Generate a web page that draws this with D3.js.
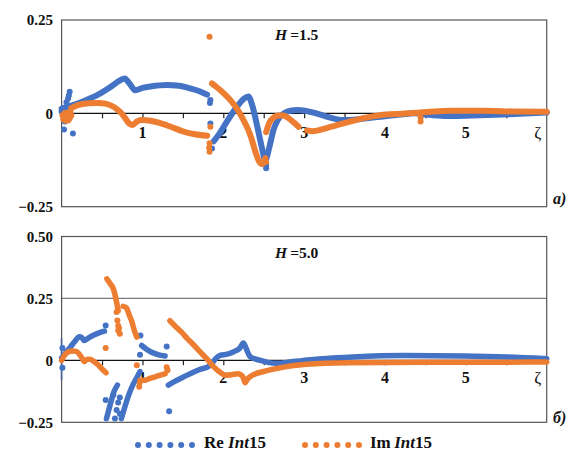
<!DOCTYPE html>
<html>
<head>
<meta charset="utf-8">
<script src="https://cdn.jsdelivr.net/npm/d3@7"></script>
<style>
  html, body { margin: 0; padding: 0; background: #fff; }
  svg { display: block; }
</style>
</head>
<body>
<svg id="chart" width="571" height="452"></svg>
<script>
// ---- data: panel а) H = 1.5 ----
const reTopSegments = [
  [[0.00,0.012],[0.08,0.018],[0.17,0.024],[0.30,0.035],[0.45,0.050],[0.60,0.070],[0.72,0.088],[0.78,0.093],[0.84,0.080],[0.91,0.062],[1.00,0.068],[1.10,0.072],[1.30,0.076],[1.45,0.074],[1.60,0.066],[1.72,0.058],[1.80,0.050]],
  [[1.88,-0.075],[1.95,-0.055],[2.05,-0.020],[2.15,0.012],[2.25,0.038],[2.31,0.045],[2.36,0.020],[2.42,-0.035],[2.47,-0.085],[2.52,-0.125],[2.57,-0.090],[2.62,-0.045],[2.68,-0.015],[2.75,0.000],[2.83,0.007],[2.92,0.009],[3.01,0.007],[3.15,0.000],[3.30,-0.010],[3.49,-0.018],[3.70,-0.015],[3.94,-0.009],[4.20,-0.003],[4.36,0.000],[4.55,-0.004],[4.77,-0.007],[5.18,-0.005],[5.60,-0.002],[6.00,0.002]]
];
const reTopDots = [[0.00,0.005],[0.02,0.015],[0.04,-0.022],[0.03,-0.043],[0.14,-0.054],[0.06,0.030],[0.08,0.040],[0.10,0.058],[0.09,0.048],[0.07,0.020],
  [1.84,0.036],[1.835,0.028],[1.84,-0.027],[1.86,-0.094],[2.53,-0.138],[2.53,-0.147]];

const imTopSegments = [
  [[0.12,0.014],[0.20,0.022],[0.33,0.027],[0.45,0.028],[0.54,0.026],[0.62,0.020],[0.68,0.012],[0.74,0.000],[0.79,-0.014],[0.84,-0.028],[0.88,-0.031],[0.93,-0.022],[0.99,-0.018],[1.10,-0.020],[1.20,-0.025],[1.35,-0.036],[1.50,-0.048],[1.65,-0.056],[1.80,-0.060]],
  [[1.86,0.080],[1.92,0.070],[2.00,0.055],[2.085,0.036],[2.17,0.012],[2.25,-0.018],[2.31,-0.045],[2.355,-0.072],[2.40,-0.105],[2.44,-0.128],[2.48,-0.136],[2.52,-0.120]],
  [[2.53,-0.050],[2.57,-0.025],[2.62,-0.012],[2.68,-0.006],[2.745,-0.006],[2.80,-0.012],[2.87,-0.024],[2.93,-0.036]],
  [[3.04,-0.046],[3.10,-0.048],[3.30,-0.038],[3.53,-0.024],[3.75,-0.012],[3.94,-0.005],[4.20,-0.001],[4.44,0.002],[4.60,0.005],[4.80,0.007],[5.20,0.007],[5.60,0.005],[6.00,0.004]]
];
const imTopDots = [[0.01,-0.005],[0.03,-0.010],[0.06,-0.012],[0.09,-0.008],[0.12,-0.006],[0.05,-0.020],[0.08,-0.019],[0.02,-0.016],[0.10,-0.014],[0.04,0.001],[0.07,0.002],[0.11,0.004],
  [1.83,0.205],[1.84,-0.036],[1.83,-0.080],[1.825,-0.092],[1.83,-0.103],[2.53,-0.130],[4.44,-0.012],[4.44,-0.022]];

// ---- data: panel б) H = 5.0 ----
const reBotSegments = [
  [[0.00,0.010],[0.05,0.030],[0.10,0.050],[0.16,0.075],[0.22,0.095],[0.25,0.092],[0.28,0.080],[0.33,0.090],[0.40,0.102],[0.47,0.112],[0.53,0.118]],
  [[0.555,-0.235],[0.60,-0.180],[0.65,-0.125],[0.69,-0.100]],
  [[0.74,-0.235],[0.78,-0.190],[0.83,-0.140],[0.88,-0.100],[0.93,-0.070],[0.97,-0.045]],
  [[0.99,0.060],[1.05,0.045],[1.10,0.035],[1.15,0.028],[1.20,0.022],[1.28,0.018]],
  [[1.32,-0.100],[1.40,-0.085],[1.50,-0.068],[1.59,-0.054],[1.70,-0.038],[1.84,-0.020],[1.90,0.005],[1.96,0.020],[2.05,0.025],[2.13,0.035],[2.20,0.048],[2.25,0.070],[2.28,0.050],[2.33,0.016],[2.40,0.005],[2.46,0.000],[2.55,-0.008],[2.66,-0.012],[2.80,-0.008],[2.99,0.000],[3.24,0.007],[3.60,0.014],[4.23,0.020],[4.97,0.018],[5.50,0.014],[6.00,0.007]]
];
const reBotDots = [[0.01,-0.030],[0.01,0.050],[0.545,0.141],[0.545,-0.160],[0.66,-0.235],[0.68,-0.200],[0.70,-0.170],[0.72,-0.150],[0.72,-0.215],[0.64,-0.140],
  [0.97,0.023],[0.975,0.100],[1.30,0.056],[1.33,-0.205]];
const reBotFaint = [[0.00,0.090],[0.00,-0.080]];

const imBotSegments = [
  [[0.00,0.000],[0.04,0.022],[0.08,0.034],[0.13,0.038],[0.18,0.036],[0.22,0.025],[0.26,0.005],[0.28,-0.005],[0.31,0.004],[0.35,0.005],[0.40,-0.005],[0.45,-0.018],[0.50,-0.035],[0.55,-0.050]],
  [[0.56,0.329],[0.60,0.310],[0.64,0.289],[0.68,0.235],[0.70,0.200]],
  [[0.76,0.218],[0.80,0.212],[0.84,0.180],[0.87,0.155],[0.90,0.120],[0.93,0.094]],
  [[0.97,-0.080],[1.03,-0.080],[1.10,-0.072],[1.20,-0.062],[1.28,-0.054]],
  [[1.34,0.160],[1.40,0.140],[1.48,0.115],[1.55,0.090],[1.64,0.060],[1.72,0.032],[1.80,0.005],[1.88,-0.025],[1.96,-0.048],[2.02,-0.060],[2.10,-0.058],[2.18,-0.054],[2.24,-0.065],[2.27,-0.090],[2.30,-0.075],[2.36,-0.060],[2.50,-0.045],[2.66,-0.033],[2.85,-0.022],[3.03,-0.016],[3.53,-0.010],[4.50,-0.008],[6.00,-0.007]]
];
const imBotDots = [[0.68,0.195],[0.69,0.161],[0.70,0.140],[0.71,0.130],[0.70,0.121],[0.72,0.107],[0.545,0.050],[0.93,-0.020],[0.96,-0.107],[0.965,-0.090],[1.30,-0.028],[1.31,-0.040]];

// ---- axes & labels ----
const xTicks = [0.5,1,1.5,2,2.5,3,3.5,4,4.5,5,5.5];
const xTickLabels = [1,2,3,4,5];
const xAxisLabel = "ζ";
const yTopTicks = [-0.25, 0, 0.25];
const yBotTicks = [-0.25, 0, 0.25, 0.5];
const yTopLabels = ["\u22120.25", "0", "0.25"];
const yBotLabels = ["\u22120.25", "0", "0.25", "0.50"];
const panelTitles = ["1.5", "5.0"];
const panelTags = ["а)", "б)"];
const seriesNames = [["Re", "Int", "15"], ["Im", "Int", "15"]];

const BLUE = "#4472C4", ORANGE = "#ED7D31";
const FONT = "'Liberation Serif', 'Times New Roman', 'DejaVu Serif', serif";
const svg = d3.select("#chart");

const x = d3.scaleLinear().domain([0, 6]).range([61.6, 546.7]);
const yTop = d3.scaleLinear().domain([-0.25, 0.25]).range([206.7, 20]);
const yBot = d3.scaleLinear().domain([-0.25, 0.5]).range([422.3, 236.5]);

function label(g, size) {
  return g.append("text").attr("font-family", FONT).attr("font-weight", "bold")
    .attr("font-size", size).attr("fill", "#111");
}

function drawPanel(y, yTicks, yLabels, gridVals, title, tag, titleBase, tagBase, labelOffset) {
  const g = svg.append("g");
  const [y0, y1] = y.range();
  gridVals.forEach(v => {
    g.append("line").attr("x1", x(0)).attr("x2", x(6)).attr("y1", y(v)).attr("y2", y(v))
      .attr("stroke", "#7a7a7a").attr("stroke-width", 1.2);
  });
  g.append("rect").attr("x", x(0)).attr("y", y1).attr("width", x(6) - x(0)).attr("height", y0 - y1)
    .attr("fill", "none").attr("stroke", "#555").attr("stroke-width", 1.2);
  const axis = d3.axisBottom(x).tickValues(xTicks).tickSize(5).tickFormat("");
  const ax = g.append("g").attr("transform", `translate(0,${y(0)})`).call(axis);
  ax.select(".domain").remove();
  ax.selectAll(".tick line").attr("stroke", "#222").attr("stroke-width", 1.2);
  g.append("line").attr("x1", x(0)).attr("x2", x(6)).attr("y1", y(0)).attr("y2", y(0))
    .attr("stroke", "#111").attr("stroke-width", 1.3);
  xTickLabels.forEach(d => {
    label(g, 16).attr("x", x(d)).attr("y", y(0) + labelOffset).attr("text-anchor", "middle").text(d);
  });
  label(g, 17).attr("font-weight", "normal").attr("x", x(5.89)).attr("y", y(0) + labelOffset)
    .attr("text-anchor", "middle").text(xAxisLabel);
  yTicks.forEach((d, i) => {
    label(g, 15).attr("x", 53).attr("y", y(d)).attr("dy", "0.36em")
      .attr("text-anchor", "end").text(yLabels[i]);
  });
  const t = label(g, 15.5).attr("x", 275).attr("y", titleBase);
  t.append("tspan").attr("font-style", "italic").text("H");
  t.append("tspan").text("\u2009=" + title);
  label(g, 16).attr("x", 553).attr("y", tagBase).attr("font-style", "italic").text(tag);
  return g;
}

drawPanel(yTop, yTopTicks, yTopLabels, [], panelTitles[0], panelTags[0], 40, 204, 25);
drawPanel(yBot, yBotTicks, yBotLabels, [0.25], panelTitles[1], panelTags[1], 258, 423, 23);

function drawSeries(y, segments, dots, color, width) {
  const line = d3.line().x(d => x(d[0])).y(d => y(d[1])).curve(d3.curveMonotoneX);
  const g = svg.append("g");
  g.selectAll("path").data(segments).enter().append("path")
    .attr("d", line).attr("fill", "none").attr("stroke", color)
    .attr("stroke-width", width).attr("stroke-linecap", "round").attr("stroke-linejoin", "round");
  g.selectAll("circle").data(dots).enter().append("circle")
    .attr("cx", d => x(d[0])).attr("cy", d => y(d[1])).attr("r", 3).attr("fill", color);
}

// faint vertical cluster at ζ = 0 in the lower panel
svg.append("path")
  .attr("d", d3.line().x(d => x(d[0])).y(d => yBot(d[1]))(reBotFaint))
  .attr("stroke", BLUE).attr("stroke-opacity", 0.35).attr("stroke-width", 3).attr("fill", "none");

drawSeries(yTop, reTopSegments, reTopDots, BLUE, 6);
drawSeries(yTop, imTopSegments, imTopDots, ORANGE, 6);
drawSeries(yBot, reBotSegments, reBotDots, BLUE, 5.5);
drawSeries(yBot, imBotSegments, imBotDots, ORANGE, 5.5);

// legend
const legend = [{x0: 138, tx: 204, color: BLUE, name: seriesNames[0], gap: "\u00a0"},
                {x0: 305, tx: 370, color: ORANGE, name: seriesNames[1], gap: "\u2009"}];
legend.forEach(l => {
  svg.append("g").selectAll("circle").data(d3.range(6)).enter().append("circle")
    .attr("cx", i => l.x0 + i * 10.8).attr("cy", 445).attr("r", 3).attr("fill", l.color);
  const t = label(svg, 17).attr("x", l.tx).attr("y", 448);
  t.append("tspan").text(l.name[0] + l.gap);
  t.append("tspan").attr("font-style", "italic").text(l.name[1]);
  t.append("tspan").text(l.name[2]);
});
</script>
</body>
</html>
